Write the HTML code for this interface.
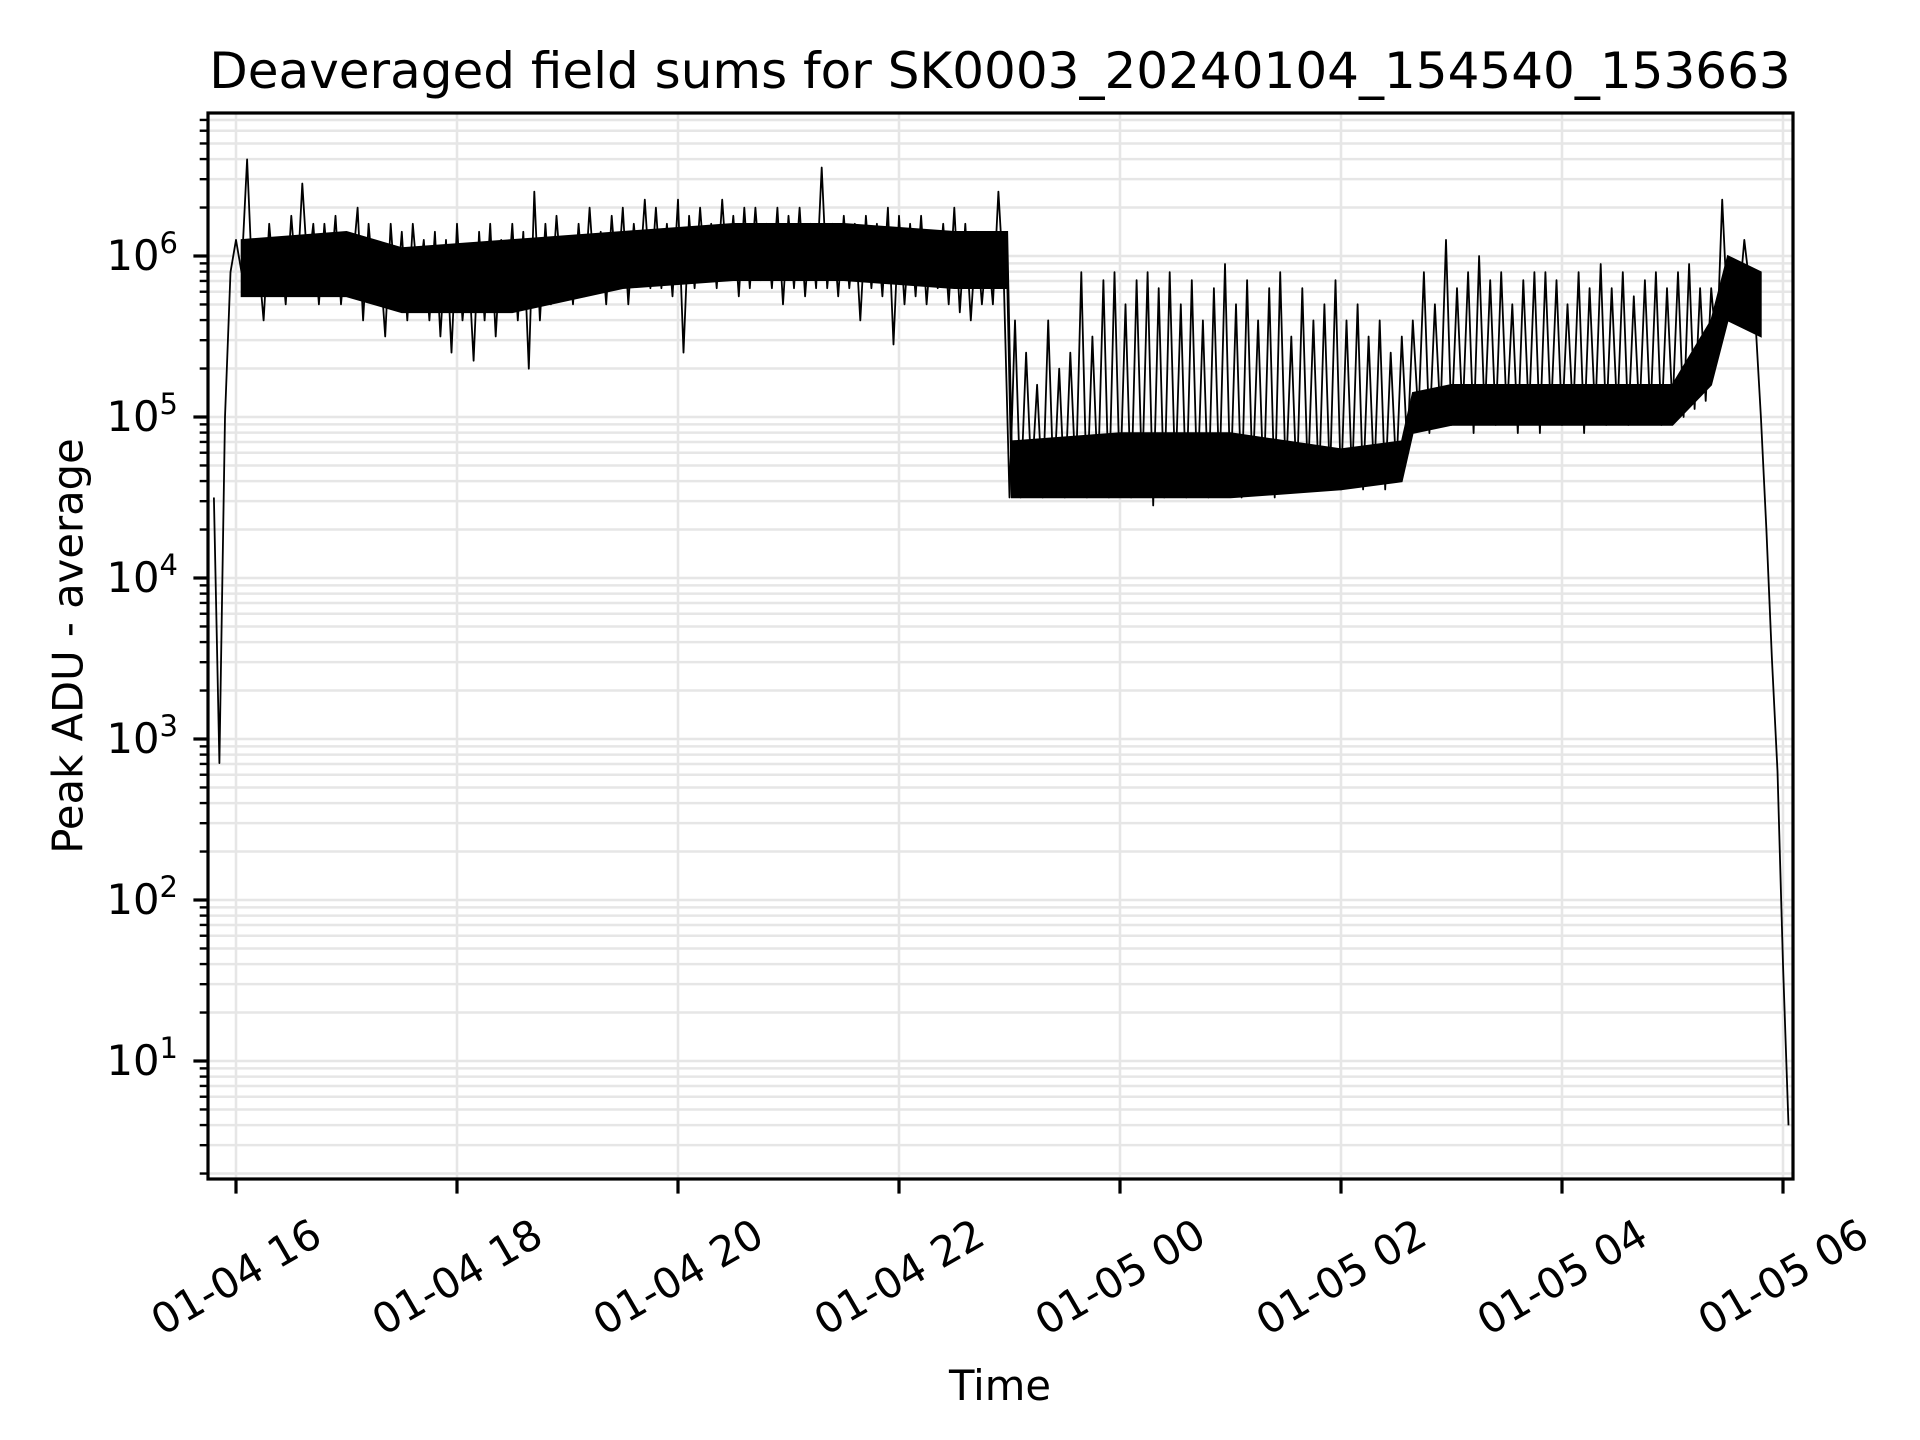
<!DOCTYPE html>
<html><head><meta charset="utf-8"><style>
html,body{margin:0;padding:0;background:#fff;}
svg{display:block;font-family:"DejaVu Sans","Liberation Sans",sans-serif;}
</style></head><body>
<svg id="chart" width="1920" height="1440" viewBox="0 0 1920 1440" xmlns="http://www.w3.org/2000/svg">
<rect width="1920" height="1440" fill="#fff"/>
<g id="grid"></g>
<g id="series"></g>
<rect x="208" y="113" width="1585" height="1066" fill="none" stroke="#000" stroke-width="3.2"/>
<g id="axes"></g>
<text x="1000" y="88" text-anchor="middle" font-size="50">Deaveraged field sums for SK0003_20240104_154540_153663</text>
<text x="1000" y="1400" text-anchor="middle" font-size="41.7">Time</text>
<text x="68" y="646" text-anchor="middle" dominant-baseline="central" font-size="41.7" transform="rotate(-90 68 646)">Peak ADU - average</text>
</svg>
<script>
// data (log10 of peak ADU - average), sampled every stepMinutes starting at startHour
const startHour = 15.8;
const stepMinutes = 3;
const logValues = [
4.5,2.85,5.0,5.9,6.1,5.9,6.6,5.8,6.0,5.6,6.2,5.8,6.1,5.7,6.25,5.8,6.45,5.9,6.2,5.7,
6.2,5.8,6.25,5.7,6.1,5.9,6.3,5.6,6.2,5.8,6.0,5.5,6.2,5.7,6.15,5.6,6.2,5.8,6.1,5.6,
6.15,5.5,6.1,5.4,6.2,5.6,6.0,5.35,6.15,5.6,6.2,5.5,6.1,5.7,6.2,5.6,6.15,5.3,6.4,5.6,
6.2,5.7,6.25,5.8,6.1,5.7,6.2,5.75,6.3,5.8,6.15,5.7,6.25,5.8,6.3,5.7,6.2,5.85,6.35,5.8,
6.3,5.8,6.2,5.75,6.35,5.4,6.25,5.8,6.3,5.85,6.2,5.8,6.35,5.85,6.25,5.75,6.3,5.8,6.3,5.85,
6.2,5.8,6.3,5.7,6.25,5.8,6.3,5.75,6.2,5.8,6.55,5.8,6.2,5.75,6.25,5.8,6.2,5.6,6.25,5.8,
6.2,5.75,6.3,5.45,6.25,5.7,6.2,5.75,6.25,5.7,6.15,5.8,6.2,5.7,6.3,5.65,6.2,5.6,6.15,5.7,
6.1,5.7,6.4,5.8,4.5,5.6,4.5,5.4,4.6,5.2,4.5,5.6,4.55,5.3,4.5,5.4,4.6,5.9,4.5,5.5,
4.6,5.85,4.5,5.9,4.55,5.7,4.5,5.85,4.6,5.9,4.45,5.8,4.5,5.9,4.6,5.7,4.5,5.85,4.55,5.6,
4.5,5.8,4.6,5.95,4.55,5.7,4.5,5.85,4.6,5.6,4.55,5.8,4.5,5.9,4.6,5.5,4.55,5.8,4.6,5.6,
4.55,5.7,4.6,5.85,4.55,5.6,4.6,5.7,4.55,5.5,4.6,5.6,4.55,5.4,4.65,5.5,4.8,5.6,5.0,5.9,
4.9,5.7,5.0,6.1,4.95,5.8,5.0,5.9,4.9,6.0,5.0,5.85,4.95,5.9,5.0,5.7,4.9,5.85,5.0,5.9,
4.9,5.9,5.0,5.85,4.95,5.7,5.0,5.9,4.9,5.8,5.0,5.95,4.95,5.8,5.0,5.9,4.95,5.75,5.0,5.85,
5.0,5.9,4.95,5.8,5.05,5.9,5.0,5.95,5.05,5.8,5.1,5.8,5.4,6.35,5.6,5.9,5.7,6.1,5.8,5.6,
5.0,4.3,3.5,2.8,1.6,0.6
];
// dense core of the signal (log10 envelope of the bulk of samples)
const bandHours = [16.05,17,17.5,18.5,19.5,20.5,21.5,22.5,22.98,23.02,24,25,26,26.55,26.65,27,28,29,29.35,29.5,29.8];
const bandLow   = [5.75,5.75,5.65,5.65,5.8,5.85,5.85,5.8,5.8,4.5,4.5,4.5,4.55,4.6,4.9,4.95,4.95,4.95,5.2,5.6,5.5];
const bandHigh  = [6.1,6.15,6.05,6.1,6.15,6.2,6.2,6.15,6.15,4.85,4.9,4.9,4.8,4.85,5.15,5.2,5.2,5.2,5.6,6.0,5.9];
const xTickHours = [16,18,20,22,24,26,28,30];
const xTickLabels = ["01-04 16","01-04 18","01-04 20","01-04 22","01-05 00","01-05 02","01-05 04","01-05 06"];
const yDecades = [1,2,3,4,5,6];

const L=208,R=1793,T=113,B=1179;
const NS="http://www.w3.org/2000/svg";
function xOf(h){return 236+(h-16)*110.5;}
function yOf(lg){return 256-(lg-6)*161;}
const yMin=0.267,yMax=6.888;
function mk(tag,attrs,parent){const e=document.createElementNS(NS,tag);for(const k in attrs)e.setAttribute(k,attrs[k]);parent.appendChild(e);return e;}
const grid=document.getElementById('grid'),axes=document.getElementById('axes'),series=document.getElementById('series');

for(let d=0; d<=6; d++){
  for(let m=1;m<=9;m++){
    const lg=d+Math.log10(m);
    if(lg<yMin||lg>yMax) continue;
    const y=yOf(lg);
    const gl=mk('line',{x1:L,x2:R,y1:y,y2:y,stroke:'#e6e6e6','stroke-width':2.5},grid);
    
    
    const tl=mk('line',{x1:m===1?L-14.6:L-8.3,x2:L,y1:y,y2:y,stroke:'#000','stroke-width':m===1?3.2:2.4},axes);
    
    
  }
}
yDecades.forEach(d=>{
  const y=yOf(d);
  const t=mk('text',{x:178,y:y+14,'text-anchor':'end','font-size':41.7},axes);
  
  
  t.innerHTML='10<tspan dy="-17" font-size="29">'+d+'</tspan>';
});
xTickHours.forEach((h,i)=>{
  const x=xOf(h);
  const gl=mk('line',{x1:x,x2:x,y1:T,y2:B,stroke:'#e6e6e6','stroke-width':2.5},grid);
  
  
  const tl=mk('line',{x1:x,x2:x,y1:B,y2:B+14.6,stroke:'#000','stroke-width':3.2},axes);
  
  
  const cy=1277;
  const t=mk('text',{x:x,y:cy,'text-anchor':'middle','dominant-baseline':'central','font-size':41.7,transform:'rotate(-30 '+x+' '+cy+')'},axes);
  
  
  t.textContent=xTickLabels[i];
});
// dense band
let bd='';
bandHours.forEach((h,i)=>{bd+=(i?'L':'M')+xOf(h).toFixed(1)+' '+yOf(bandHigh[i]).toFixed(1);});
for(let i=bandHours.length-1;i>=0;i--){bd+='L'+xOf(bandHours[i]).toFixed(1)+' '+yOf(bandLow[i]).toFixed(1);}
bd+='Z';
const band=mk('path',{d:bd,fill:'#000',stroke:'#000','stroke-width':1.6},series);


// series
let d='';
logValues.forEach((v,i)=>{
  const h=startHour+i*stepMinutes/60;
  d+=(i?'L':'M')+xOf(h).toFixed(1)+' '+yOf(v).toFixed(1);
});
const p=mk('path',{d:d,fill:'none',stroke:'#000','stroke-width':1.8,'stroke-linejoin':'round'},series);


</script>
</body></html>
